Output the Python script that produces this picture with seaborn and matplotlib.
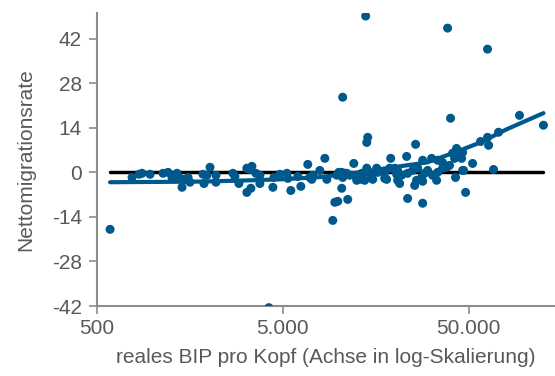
import matplotlib
matplotlib.use("Agg")
import matplotlib.pyplot as plt
import matplotlib.ticker as mticker
import numpy as np
import pandas as pd
import seaborn as sns

# BIP pro Kopf (x) und Nettomigrationsrate (y)
bip = [587, 771, 841, 873, 964, 1132, 1204, 1265, 1346, 1370, 1432, 1468, 1543, 1581,
       1857, 1880, 1950, 2027, 2182, 2182, 2692, 2760, 2900, 3200, 3406, 3325, 3200,
       3365, 3580, 3760, 3760, 4420, 4477, 4820, 5254, 5320, 5520, 6020, 6250, 6810,
       7160, 7906, 8414, 8626, 4205, 6985, 7245, 9285, 9524, 9880, 10376, 11175, 12047,
       9760, 10376, 10500, 11040, 11456, 12500, 13300, 13800, 14150, 14320, 15030, 16000,
       16220, 17670, 14320, 14150, 13960, 10500, 19050, 20750, 21280, 17670, 18800, 20000,
       20750, 21800, 23490, 25000, 26600, 27950, 29000, 30100, 32000, 34070, 36220, 38100,
       39500, 46450, 23200, 23490, 25930, 25630, 26240, 28300, 28300, 28300, 31620, 34070,
       36220, 33650, 41020, 43070, 42050, 42550, 40000, 48180, 47000, 68130, 44730, 46450,
       45840, 52560, 58000, 63250, 64100, 72500, 63250, 94000, 126500, 38550, 10000, 10770,
       12500, 13300, 15240, 18100, 20000, 20500]
migration = [-17.9, -1.6, -0.6, -0.3, -0.6, -0.3, 0.0, -1.6, -0.3, -1.3, -4.7, -2.2, -1.6, -3.1,
             -0.6, -3.5, -0.9, 1.6, -0.9, -3.1, -0.3, -1.3, -3.5, 1.3, 1.9, 0.9, -6.3,
             -5.0, -0.3, -0.9, -3.5, -4.7, -1.6, -0.6, -0.3, -1.9, -5.7, -1.3, -4.4, 2.5,
             -2.2, 0.6, 4.4, -2.2, -42.5, -1.6, -0.9, -15.1, -9.4, -9.1, -5.0, -8.5, 2.8,
             -0.9, 0.0, -1.6, -0.3, -0.9, -1.9, -0.3, -2.5, 1.3, 0.0, -0.9, 1.3,
             0.0, 0.0, 11.0, 9.4, 49.1, 23.6, 4.4, -2.5, -3.5, -1.9, 1.3, 1.3,
             0.6, -0.9, -0.3, 0.6, 1.3, -1.6, -0.3, 0.6, -0.9, 0.0, 1.3, 1.6,
             2.2, 0.6, 5.0, -8.2, 8.8, -4.1, -2.5, -2.8, -9.7, 3.8, 4.4, 3.8,
             3.1, -2.5, 6.0, 7.5, 4.4, -1.6, 17.0, -6.3, 0.6, 0.9, 6.0, 6.3,
             4.4, 2.8, 9.7, 11.0, 8.5, 12.6, 38.7, 17.9, 14.8, 45.3, 0.0, -0.3,
             -2.5, -2.2, -2.2, -2.2, 0.9, -0.6]

# geglaettete Trendkurve
fit_bip = [587, 1090, 1790, 2930, 4820, 7906, 11800, 18100, 29800, 41000, 58000, 80000, 126500]
fit_rate = [-3.1, -3.0, -2.9, -2.6, -2.2, -1.5, -0.3, 1.3, 3.1, 6.0, 9.4, 13.5, 18.6]

x_ticks = [500, 5000, 50000]
x_ticklabels = ["500", "5.000", "50.000"]
y_ticks = [-42, -28, -14, 0, 14, 28, 42]

blue = "#00598c"
grey = "#595959"

df = pd.DataFrame({"bip": bip, "rate": migration})
fit = pd.DataFrame({"bip": fit_bip, "rate": fit_rate})
zero = pd.DataFrame({"bip": [min(bip), max(bip)], "rate": [0, 0]})

sns.set_style("white")
plt.rcParams["font.family"] = ["Liberation Sans", "DejaVu Sans"]
plt.rcParams["axes.unicode_minus"] = False

fig, ax = plt.subplots(figsize=(5.55, 3.76), dpi=100)
fig.subplots_adjust(left=0.175, right=0.999, top=0.965, bottom=0.186)

sns.lineplot(data=zero, x="bip", y="rate", color="black", lw=2.5, ax=ax)
sns.scatterplot(data=df, x="bip", y="rate", color=blue, s=42, edgecolor="none", ax=ax, zorder=3)
sns.lineplot(data=fit, x="bip", y="rate", color=blue, lw=3, ax=ax, zorder=4)

ax.set_xscale("log")
ax.set_xlim(500, 145000)
ax.set_ylim(-42, 50)
ax.xaxis.set_major_locator(mticker.FixedLocator(x_ticks))
ax.xaxis.set_minor_locator(mticker.NullLocator())
ax.set_xticklabels(x_ticklabels)
ax.set_yticks(y_ticks)

for side in ["top", "right"]:
    ax.spines[side].set_visible(False)
for side in ["left", "bottom"]:
    ax.spines[side].set_color("#8c8c8c")
    ax.spines[side].set_linewidth(1.5)

ax.tick_params(axis="both", direction="out", length=6, width=1.2, color="#8c8c8c",
               labelsize=15, labelcolor=grey, left=True, bottom=True)
ax.tick_params(axis="y", pad=5)
ax.set_xlabel("reales BIP pro Kopf (Achse in log-Skalierung)", fontsize=15, color=grey, labelpad=7)
ax.set_ylabel("Nettomigrationsrate", fontsize=15, color=grey, labelpad=12)

fig.savefig("out.png", dpi=100)
